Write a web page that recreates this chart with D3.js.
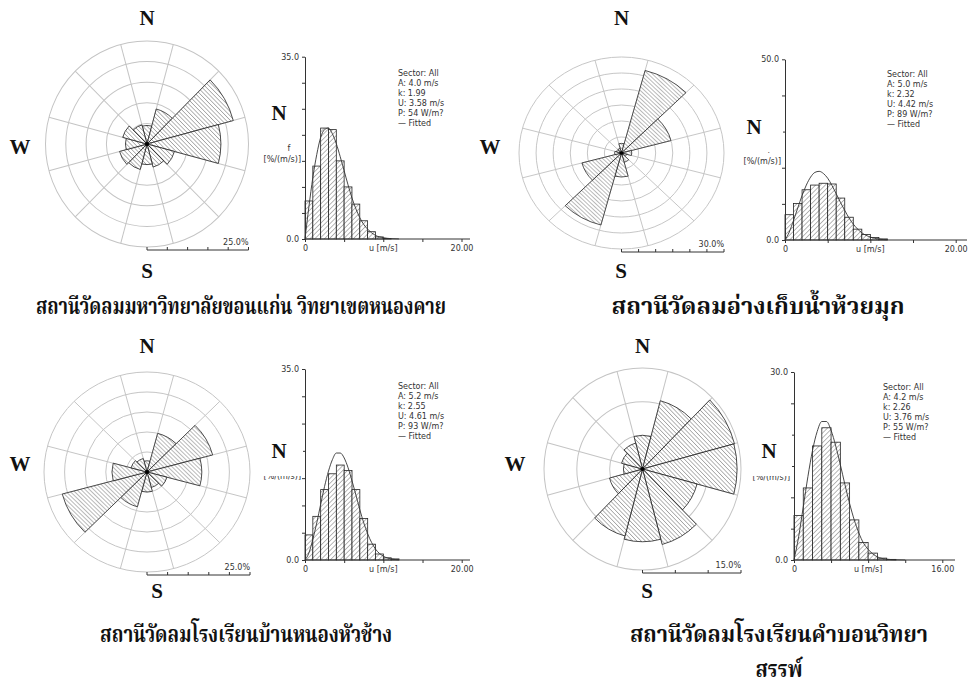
<!DOCTYPE html>
<html>
<head>
<meta charset="utf-8">
<script src="https://cdn.jsdelivr.net/npm/d3@7"></script>
<style>
body { margin: 0; background: #fff; }
svg text { font-family: "DejaVu Sans", sans-serif; }
.compass { font-family: "Liberation Serif", "Times New Roman", serif; font-weight: bold; font-size: 21px; fill: #111; }
.small { font-size: 8px; fill: #333; }
.title { font-family: "Noto Serif Thai", "Norasi", "Kinnari", "Laksaman", "Noto Sans Thai", "Loma", sans-serif; font-weight: bold; font-size: 23px; fill: #111; }
</style>
</head>
<body>
<svg id="chart" width="971" height="689"></svg>
<script>
// wind rose: 12 sectors of 30 deg, frequency in %
var sectorDeg = [0, 30, 60, 90, 120, 150, 180, 210, 240, 270, 300, 330];
var roseNongKhai      = [4.5, 8.8, 22.0, 18.2, 7.0, 5.8, 5.0, 6.4, 7.0, 5.3, 6.2, 4.8];
var roseHuaiMuk       = [3.0, 26.7, 15.0, 3.0, 1.5, 3.0, 7.5, 23.3, 12.0, 2.0, 1.5, 1.5];
var roseNongHuaChang  = [2.8, 10.0, 16.5, 13.3, 5.0, 4.0, 5.0, 9.0, 21.3, 8.5, 4.0, 3.5];
var roseKhamBon       = [5.0, 10.5, 14.5, 14.4, 8.6, 11.6, 10.8, 10.3, 5.2, 2.9, 3.3, 4.0];
var roseScaleMax = [25, 30, 25, 15];

// histograms: 1 m/s bins, f in %/(m/s)
var binStart = [0, 1, 2, 3, 4, 5, 6, 7, 8, 9, 10, 11];
var histNongKhai     = [7.3, 14.0, 21.3, 21.0, 15.0, 10.0, 6.7, 3.5, 1.4, 0.4, 0.1];
var histHuaiMuk      = [7.0, 10.1, 13.9, 15.2, 15.7, 15.5, 11.6, 6.3, 3.0, 1.5, 0.7, 0.3];
var histNongHuaChang = [4.6, 8.0, 12.9, 15.8, 17.4, 16.4, 12.9, 7.6, 2.9, 1.1, 0.4, 0.2];
var histKhamBon      = [7.1, 11.5, 18.2, 21.1, 18.8, 12.3, 6.4, 2.8, 1.1, 0.3, 0.1];
var histYMax = [35, 50, 35, 30];
var histYStep = [5, 10, 5, 5];
var histXMax = [20, 20, 20, 16];
var histXStep = [5, 5, 5, 4];

// fitted curve
var fitSpeed = [0, 0.5, 1, 1.5, 2, 2.5, 3, 3.5, 4, 4.5, 5, 5.5, 6, 6.5, 7, 7.5, 8, 9, 10, 11, 12];
var fitNongKhai     = [0, 6.2, 11.8, 16.2, 19.5, 21.0, 21.3, 20.2, 18.3, 15.8, 13.1, 10.4, 7.9, 5.8, 4.1, 2.8, 1.9, 0.7, 0.25, 0.07, 0.02];
var fitHuaiMuk      = [0, 2.2, 5.4, 8.9, 12.3, 15.2, 17.4, 18.7, 19.0, 18.4, 17.1, 15.1, 12.8, 10.4, 8.2, 6.1, 4.4, 2.0, 0.8, 0.26, 0.07];
var fitNongHuaChang = [0, 1.3, 3.8, 6.8, 10.2, 13.5, 16.3, 18.4, 19.6, 19.6, 18.7, 16.9, 14.5, 11.9, 9.2, 6.8, 4.8, 2.0, 0.7, 0.2, 0.04];
var fitKhamBon      = [0, 3.7, 8.5, 13.3, 17.5, 20.5, 22.1, 22.1, 20.7, 18.2, 15.2, 12.0, 9.0, 6.4, 4.3, 2.7, 1.7, 0.5, 0.13, 0.03, 0];

var statA = ["4.0", "5.0", "5.2", "4.2"];
var statK = ["1.99", "2.32", "2.55", "2.26"];
var statU = ["3.58", "4.42", "4.61", "3.76"];
var statP = ["54", "89", "93", "55"];

var stationTitles = [
    ["สถานีวัดลมมหาวิทยาลัยขอนแก่น วิทยาเขตหนองคาย"],
    ["สถานีวัดลมอ่างเก็บน้ำห้วยมุก"],
    ["สถานีวัดลมโรงเรียนบ้านหนองหัวช้าง"],
    ["สถานีวัดลมโรงเรียนคำบอนวิทยา", "สรรพ์"]
];

var roses = [roseNongKhai, roseHuaiMuk, roseNongHuaChang, roseKhamBon];
var hists = [histNongKhai, histHuaiMuk, histNongHuaChang, histKhamBon];
var fits = [fitNongKhai, fitHuaiMuk, fitNongHuaChang, fitKhamBon];

// page layout of the four panels
var panels = [
    {cx: 147, cy: 144, rx: 101.5, ry: 103, nY: 25, wX: 20, wY: 154, sX: 147, sY: 278,
     hx0: 305, hx1: 461.5, hEnd: 470, hy0: 239, hy1: 56.7, tx: 398, ty: 76, bigN: [279, 120], cover: null,
     titleX: 241, titleY: [314], titleW: [410]},
    {cx: 621.5, cy: 153, rx: 102.5, ry: 96, nY: 25, wX: 490, wY: 154, sX: 621, sY: 278,
     hx0: 785, hx1: 955.7, hEnd: 967, hy0: 240, hy1: 59.3, tx: 887, ty: 77, bigN: [754, 134], cover: 152,
     titleX: 758, titleY: [314], titleW: [293]},
    {cx: 147, cy: 472, rx: 103, ry: 100, nY: 353, wX: 20, wY: 471, sX: 157, sY: 598,
     hx0: 305, hx1: 461.7, hEnd: 470, hy0: 560, hy1: 369, tx: 398, ty: 389, bigN: [279, 458], cover: 476,
     titleX: 246, titleY: [642], titleW: [292]},
    {cx: 642.5, cy: 469, rx: 98.5, ry: 101, nY: 353, wX: 515, wY: 471, sX: 647, sY: 598,
     hx0: 794, hx1: 942.3, hEnd: 955, hy0: 560, hy1: 372, tx: 883, ty: 390, bigN: [769, 458], cover: 476,
     titleX: 779, titleY: [642, 677], titleW: [298, 47]}
];

var svg = d3.select("#chart");
var defs = svg.append("defs");

function hatch(id, angle, size, color){
    var p = defs.append("pattern").attr("id", id)
        .attr("patternUnits", "userSpaceOnUse")
        .attr("width", size).attr("height", size)
        .attr("patternTransform", "rotate(" + angle + ")");
    p.append("rect").attr("width", size).attr("height", size).attr("fill", "#fff");
    p.append("line").attr("x1", 0).attr("y1", 0).attr("x2", 0).attr("y2", size)
        .attr("stroke", color).attr("stroke-width", 0.7);
}
hatch("hatchRose", -45, 3, "#333");
hatch("hatchBar", 45, 3.4, "#333");

function drawRose(p, freq, maxPct){
    var g = svg.append("g")
        .attr("transform", "translate(" + p.cx + "," + p.cy + ") scale(1," + (p.ry / p.rx) + ")");
    var r = d3.scaleLinear().domain([0, maxPct]).range([0, p.rx]);
    var rings = d3.range(5, maxPct + 0.01, 5);

    g.selectAll(".ring").data(rings).enter().append("circle")
        .attr("class", "ring")
        .attr("r", d => r(d))
        .attr("fill", "none")
        .attr("stroke", "#c4c4c4")
        .attr("stroke-width", 1);

    g.selectAll(".spoke").data(sectorDeg).enter().append("line")
        .attr("class", "spoke")
        .attr("x1", 0).attr("y1", 0)
        .attr("x2", d => r(maxPct) * Math.sin((d + 15) * Math.PI / 180))
        .attr("y2", d => -r(maxPct) * Math.cos((d + 15) * Math.PI / 180))
        .attr("stroke", "#c4c4c4")
        .attr("stroke-width", 1);

    var arc = d3.arc()
        .innerRadius(0)
        .outerRadius(d => r(d.v))
        .startAngle(d => (d.a - 15) * Math.PI / 180)
        .endAngle(d => (d.a + 15) * Math.PI / 180);

    g.selectAll(".sector")
        .data(sectorDeg.map((a, i) => ({a: a, v: freq[i]})))
        .enter().append("path")
        .attr("class", "sector")
        .attr("d", arc)
        .attr("fill", "url(#hatchRose)")
        .attr("stroke", "#222")
        .attr("stroke-width", 0.8);

    g.append("circle").attr("r", 2).attr("fill", "#000");

    // scale bar under the rose
    var by = p.cy + p.ry + 3;
    var sb = d3.scaleLinear().domain([0, maxPct]).range([p.cx, p.cx + p.rx]);
    svg.append("line").attr("x1", sb(0)).attr("x2", sb(maxPct)).attr("y1", by).attr("y2", by)
        .attr("stroke", "#333").attr("stroke-width", 1);
    svg.selectAll(null).data(d3.range(0, maxPct + 0.01, 5)).enter().append("line")
        .attr("x1", d => sb(d)).attr("x2", d => sb(d))
        .attr("y1", by).attr("y2", by - 3)
        .attr("stroke", "#333").attr("stroke-width", 1);
    svg.append("text").attr("class", "small")
        .attr("x", sb(maxPct)).attr("y", by - 5)
        .attr("text-anchor", "end")
        .text(d3.format(".1f")(maxPct) + "%");

    // compass letters
    svg.append("text").attr("class", "compass").attr("text-anchor", "middle")
        .attr("x", p.cx).attr("y", p.nY).text("N");
    svg.append("text").attr("class", "compass").attr("text-anchor", "middle")
        .attr("x", p.wX).attr("y", p.wY).text("W");
    svg.append("text").attr("class", "compass").attr("text-anchor", "middle")
        .attr("x", p.sX).attr("y", p.sY).text("S");
}

function drawHist(p, i){
    var vals = hists[i];
    var x = d3.scaleLinear().domain([0, histXMax[i]]).range([p.hx0, p.hx1]);
    var y = d3.scaleLinear().domain([0, histYMax[i]]).range([p.hy0, p.hy1]);

    svg.selectAll(null).data(vals).enter().append("rect")
        .attr("x", (d, j) => x(binStart[j]))
        .attr("width", (d, j) => x(binStart[j] + 1) - x(binStart[j]))
        .attr("y", d => y(d))
        .attr("height", d => y(0) - y(d))
        .attr("fill", "url(#hatchBar)")
        .attr("stroke", "#222")
        .attr("stroke-width", 0.8);

    var line = d3.line()
        .x((d, j) => x(fitSpeed[j]))
        .y(d => y(d))
        .curve(d3.curveMonotoneX);
    svg.append("path").datum(fits[i])
        .attr("d", line)
        .attr("fill", "none")
        .attr("stroke", "#333")
        .attr("stroke-width", 0.9);

    var yMax = histYMax[i], xMax = histXMax[i];
    var ya = svg.append("g").attr("class", "small")
        .attr("transform", "translate(" + p.hx0 + ",0)")
        .call(d3.axisLeft(y)
            .tickValues(d3.range(0, yMax + 0.01, histYStep[i]))
            .tickSize(3).tickSizeOuter(0)
            .tickFormat(d => (d === 0 || d === yMax) ? d3.format(".1f")(d) : ""));
    var xa = svg.append("g").attr("class", "small")
        .attr("transform", "translate(0," + p.hy0 + ")")
        .call(d3.axisBottom(x)
            .tickValues(d3.range(0, xMax + 0.01, histXStep[i]))
            .tickSize(3).tickSizeOuter(0)
            .tickFormat(d => d === 0 ? "0" : (d === xMax ? d3.format(".2f")(d) : "")));
    xa.select(".domain").remove();
    [ya, xa].forEach(a => {
        a.selectAll("text").attr("font-size", 8).attr("fill", "#333").attr("font-family", "DejaVu Sans");
        a.selectAll("line,path").attr("stroke", "#333");
    });
    svg.append("line").attr("x1", p.hx0).attr("x2", p.hEnd)
        .attr("y1", p.hy0).attr("y2", p.hy0)
        .attr("stroke", "#333").attr("stroke-width", 1);

    svg.append("text").attr("class", "small").attr("text-anchor", "middle")
        .attr("x", x(xMax / 2)).attr("y", p.hy0 + 12).text("u [m/s]");

    // y label, partly hidden behind the page's N box
    var mid = (p.hy0 + p.hy1) / 2;
    svg.append("text").attr("class", "small").attr("text-anchor", "middle")
        .attr("x", p.hx0 - 16).attr("y", mid + 3).text("f");
    svg.append("text").attr("class", "small").attr("text-anchor", "end")
        .attr("x", p.hx0 - 4).attr("y", mid + 14).text("[%/(m/s)]");
    if (p.cover){
        svg.append("rect").attr("x", p.hx0 - 48).attr("width", 46)
            .attr("y", p.cover - 45).attr("height", 45).attr("fill", "#fff");
    }
    svg.append("text").attr("class", "compass").attr("text-anchor", "middle")
        .attr("x", p.bigN[0]).attr("y", p.bigN[1]).text("N");

    var info = ["Sector: All", "A: " + statA[i] + " m/s", "k: " + statK[i],
                "U: " + statU[i] + " m/s", "P: " + statP[i] + " W/m?", "\u2014 Fitted"];
    svg.selectAll(null).data(info).enter().append("text")
        .attr("class", "small")
        .attr("x", p.tx).attr("y", (d, j) => p.ty + j * 10)
        .text(d => d);
}

panels.forEach((p, i) => {
    drawRose(p, roses[i], roseScaleMax[i]);
    drawHist(p, i);
    stationTitles[i].forEach((t, j) => {
        svg.append("text").attr("class", "title")
            .attr("x", p.titleX).attr("y", p.titleY[j])
            .attr("text-anchor", "middle")
            .attr("textLength", p.titleW[j])
            .attr("lengthAdjust", "spacingAndGlyphs")
            .text(t);
    });
});
</script>
</body>
</html>
